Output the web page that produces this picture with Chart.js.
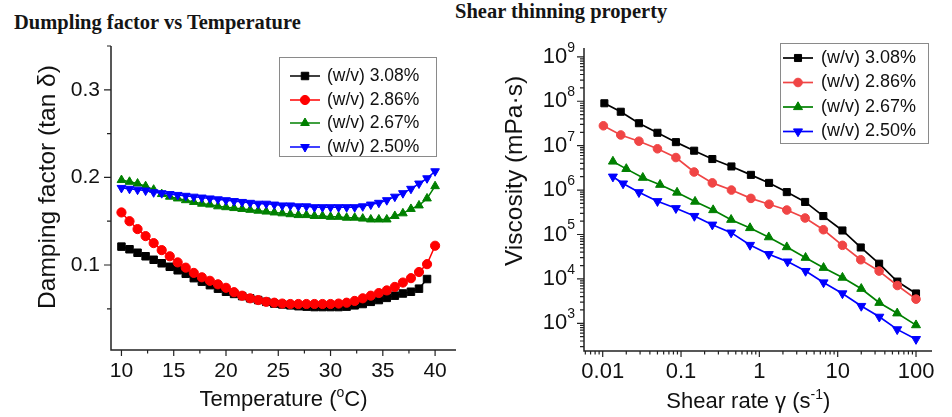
<!DOCTYPE html>
<html>
<head>
<meta charset="utf-8">
<script src="https://cdn.jsdelivr.net/npm/chart.js@4.4.1/dist/chart.umd.min.js"></script>
<style>
body { margin:0; background:#fff; width:952px; height:417px; position:relative; overflow:hidden; }
.ttl { position:absolute; font-family:"Liberation Serif", serif; font-weight:bold; font-size:20.5px; line-height:20.5px; white-space:nowrap; color:#151515; }
#left_chart { position:absolute; left:0; top:0; }
#right_chart { position:absolute; left:476px; top:0; }
</style>
</head>
<body>
<div class="ttl" style="left:14px; top:12px;">Dumpling factor vs Temperature</div>
<div class="ttl" style="left:455px; top:1px;">Shear thinning property</div>
<canvas id="left_chart" width="476" height="417"></canvas>
<canvas id="right_chart" width="476" height="417"></canvas>
<script>
// 系列名
const series_labels = ["(w/v) 3.08%", "(w/v) 2.86%", "(w/v) 2.67%", "(w/v) 2.50%"];

// 左: 温度 (°C)
const temperature = [10.00, 10.77, 11.54, 12.31, 13.08, 13.85, 14.62, 15.38, 16.15, 16.92,
                     17.69, 18.46, 19.23, 20.00, 20.77, 21.54, 22.31, 23.08, 23.85, 24.62,
                     25.38, 26.15, 26.92, 27.69, 28.46, 29.23, 30.00, 30.77, 31.54, 32.31,
                     33.08, 33.85, 34.62, 35.38, 36.15, 36.92, 37.69, 38.46, 39.23, 40.00];

// 左: tan δ
const damp_308 = [0.121, 0.118, 0.114, 0.110, 0.106, 0.102, 0.098, 0.094, 0.090, 0.085,
                  0.081, 0.077, 0.073, 0.0695, 0.067, 0.0645, 0.062, 0.060, 0.058, 0.056,
                  0.055, 0.054, 0.053, 0.0525, 0.052, 0.052, 0.052, 0.052, 0.0525, 0.054,
                  0.0555, 0.058, 0.060, 0.0625, 0.065, 0.0675, 0.0695, 0.073, 0.084];
const damp_286 = [0.160, 0.150, 0.141, 0.133, 0.125, 0.117, 0.110, 0.103, 0.097, 0.091,
                  0.086, 0.082, 0.078, 0.074, 0.069, 0.065, 0.062, 0.060, 0.058, 0.057,
                  0.056, 0.0555, 0.0555, 0.0555, 0.0555, 0.0555, 0.0555, 0.056, 0.057, 0.059,
                  0.062, 0.065, 0.068, 0.071, 0.075, 0.080, 0.085, 0.092, 0.101, 0.122];
const damp_267 = [0.197, 0.195, 0.193, 0.190, 0.186, 0.181, 0.178, 0.176, 0.174, 0.172,
                  0.170, 0.169, 0.167, 0.166, 0.165, 0.164, 0.163, 0.162, 0.161, 0.160,
                  0.159, 0.158, 0.157, 0.157, 0.156, 0.156, 0.155, 0.155, 0.154, 0.154,
                  0.153, 0.152, 0.152, 0.152, 0.156, 0.159, 0.164, 0.168, 0.176, 0.190];
const damp_250 = [0.188, 0.187, 0.186, 0.185, 0.183, 0.182, 0.181, 0.180, 0.179, 0.178,
                  0.177, 0.176, 0.175, 0.174, 0.173, 0.172, 0.171, 0.170, 0.170, 0.169,
                  0.168, 0.168, 0.167, 0.167, 0.166, 0.166, 0.166, 0.166, 0.166, 0.166,
                  0.167, 0.169, 0.171, 0.174, 0.178, 0.182, 0.187, 0.193, 0.199, 0.207];

// 右: せん断速度 (1/s)
const shear_308 = [0.0105, 0.017, 0.029, 0.050, 0.086, 0.147, 0.251, 0.44, 0.78, 1.33, 2.24, 3.84, 6.56, 11.5, 19.7, 33.8, 57.8, 100];
const shear_286 = [0.0102, 0.017, 0.029, 0.050, 0.086, 0.147, 0.251, 0.44, 0.78, 1.33, 2.24, 3.84, 6.56, 11.5, 19.7, 33.8, 57.8, 100];
const shear_267 = [0.0135, 0.020, 0.0325, 0.054, 0.089, 0.151, 0.257, 0.436, 0.76, 1.32, 2.24, 3.89, 6.6, 11.5, 20.0, 34.0, 57.5, 100];
const shear_250 = [0.0135, 0.0182, 0.029, 0.050, 0.086, 0.148, 0.251, 0.436, 0.76, 1.32, 2.29, 3.89, 6.6, 11.5, 20.0, 34.0, 57.5, 100];

// 右: 粘度 (mPa·s)
const visc_308 = [9.0e7, 5.8e7, 3.2e7, 1.95e7, 1.2e7, 7.7e6, 5.0e6, 3.4e6, 2.2e6, 1.45e6, 9.0e5, 5.4e5, 2.6e5, 1.23e5, 5.1e4, 2.2e4, 8.7e3, 4.7e3];
const visc_286 = [2.8e7, 1.74e7, 1.26e7, 8.5e6, 5.4e6, 2.55e6, 1.45e6, 1.0e6, 6.5e5, 4.8e5, 3.55e5, 2.35e5, 1.28e5, 5.7e4, 2.7e4, 1.5e4, 7.1e3, 3.5e3];
const visc_267 = [4.4e6, 3.0e6, 1.9e6, 1.32e6, 8.8e5, 5.5e5, 3.55e5, 2.15e5, 1.4e5, 8.7e4, 5.2e4, 3.0e4, 1.78e4, 1.07e4, 6.0e3, 2.9e3, 1.68e3, 9.1e2];
const visc_250 = [2.0e6, 1.4e6, 8.9e5, 5.6e5, 3.9e5, 2.6e5, 1.66e5, 1.1e5, 5.8e4, 3.6e4, 2.45e4, 1.5e4, 8.3e3, 4.7e3, 2.45e3, 1.4e3, 7.3e2, 4.4e2];

// 目盛り
const temp_ticks  = [10, 15, 20, 25, 30, 35, 40];
const temp_minor  = [12.5, 17.5, 22.5, 27.5, 32.5, 37.5];
const damp_ticks  = [0.1, 0.2, 0.3];
const damp_minor  = [0.05, 0.15, 0.25, 0.35];
const shear_ticks = [0.01, 0.1, 1, 10, 100];
const shear_tick_labels = ["0.01", "0.1", "1", "10", "100"];
const visc_exps   = [3, 4, 5, 6, 7, 8, 9];

const FONT = '"Liberation Sans", Arial, sans-serif';


function to_points(xs, ys){
    return ys.map((v, i) => ({x: xs[i], y: v}));
}

// 上付き文字を含むテキスト: parts = [[text, size, dy], ...]
function draw_rich(ctx, parts, x, y, align, rot){
    ctx.save();
    ctx.translate(x, y);
    if (rot) ctx.rotate(rot);
    ctx.textBaseline = "middle";
    ctx.textAlign = "left";
    let widths = [];
    let total = 0;
    for (let p of parts){
        ctx.font = p[1] + "px " + FONT;
        let w = ctx.measureText(p[0]).width;
        widths.push(w);
        total += w;
    }
    let cx = (align == "center") ? -total / 2 : (align == "right" ? -total : 0);
    parts.forEach((p, i) => {
        ctx.font = p[1] + "px " + FONT;
        ctx.fillStyle = "#111";
        ctx.fillText(p[0], cx, p[2] || 0);
        cx += widths[i];
    });
    ctx.restore();
}

// 軸線と目盛り(外向き)
function make_axes(spec){
    return {
        id: "hand_axes",
        beforeDatasetsDraw(chart){
            const ctx = chart.ctx;
            const a   = chart.chartArea;
            const xs  = chart.scales.x;
            const ys  = chart.scales.y;
            ctx.save();
            ctx.strokeStyle = "#222";
            ctx.lineWidth = 1.5;
            ctx.beginPath();
            ctx.moveTo(a.left, a.top);
            ctx.lineTo(a.left, a.bottom);
            ctx.lineTo(a.right, a.bottom);
            ctx.stroke();

            ctx.lineWidth = 1.2;
            ctx.beginPath();
            for (let v of spec.x_major){
                let px = xs.getPixelForValue(v);
                ctx.moveTo(px, a.bottom); ctx.lineTo(px, a.bottom + 6);
            }
            for (let v of spec.x_minor){
                let px = xs.getPixelForValue(v);
                ctx.moveTo(px, a.bottom); ctx.lineTo(px, a.bottom + 3.5);
            }
            for (let v of spec.y_major){
                let py = ys.getPixelForValue(v);
                ctx.moveTo(a.left, py); ctx.lineTo(a.left - 7, py);
            }
            for (let v of spec.y_minor){
                let py = ys.getPixelForValue(v);
                ctx.moveTo(a.left, py); ctx.lineTo(a.left - 4, py);
            }
            ctx.stroke();
            ctx.restore();
            spec.labels(chart, ctx);
        }
    };
}

// 枠付きの凡例
function make_legend(L){
    return {
        id: "box_legend",
        afterDatasetsDraw(chart){
            const ctx = chart.ctx;
            ctx.save();
            ctx.fillStyle = "#fff";
            ctx.fillRect(L.x, L.y, L.w, L.h);
            ctx.strokeStyle = "#8a8a8a";
            ctx.lineWidth = 1;
            ctx.strokeRect(L.x + 0.5, L.y + 0.5, L.w, L.h);
            chart.data.datasets.forEach((ds, i) => {
                let y = L.rows[i];
                ctx.strokeStyle = ds.borderColor;
                ctx.lineWidth = ds.borderWidth;
                ctx.beginPath();
                ctx.moveTo(L.x0, y);
                ctx.lineTo(L.x1, y);
                ctx.stroke();
                ctx.fillStyle = ds.pointBackgroundColor;
                ctx.strokeStyle = ds.pointBorderColor;
                ctx.lineWidth = 1;
                Chart.helpers.drawPoint(ctx, {
                    pointStyle: ds.pointStyle,
                    rotation: ds.pointRotation || 0,
                    radius: ds.pointRadius,
                    borderWidth: 1
                }, (L.x0 + L.x1) / 2, y);
                ctx.fillStyle = "#111";
                ctx.font = L.font + "px " + FONT;
                ctx.textBaseline = "middle";
                ctx.textAlign = "left";
                ctx.fillText(ds.label, L.tx, y);
            });
            ctx.restore();
        }
    };
}

function make_dataset(label, points, color, style, rot, radius, lw, order){
    return {
        label: label,
        data: points,
        showLine: true,
        borderColor: color,
        borderWidth: lw,
        backgroundColor: color,
        pointBackgroundColor: color,
        pointBorderColor: color,
        pointBorderWidth: 1,
        pointStyle: style,
        pointRotation: rot,
        pointRadius: radius,
        pointHoverRadius: radius,
        tension: 0,
        order: order
    };
}


window.addEventListener("load", function (){
    draw_damping_chart();
    draw_viscosity_chart();
});


function draw_damping_chart(){
    const ctx = document.getElementById("left_chart").getContext("2d");
    new Chart(ctx, {
        type: "scatter",
        data: {
            datasets: [
                make_dataset(series_labels[0], to_points(temperature, damp_308), "#000000", "rect", 0, 5.3, 1.5, 3),
                make_dataset(series_labels[1], to_points(temperature, damp_286), "#ff0000", "circle", 0, 4.6, 1.5, 2),
                make_dataset(series_labels[2], to_points(temperature, damp_267), "#008000", "triangle", 0, 5.0, 1.5, 1),
                make_dataset(series_labels[3], to_points(temperature, damp_250), "#0000ff", "triangle", 180, 5.0, 1.5, 0)
            ]
        },
        options: {
            responsive: false,
            animation: false,
            events: [],
            layout: { padding: { left: 111, right: 20, top: 46, bottom: 67 } },
            scales: {
                x: { type: "linear", min: 9, max: 42, display: false },
                y: { type: "linear", min: 0.003, max: 0.35, display: false }
            },
            plugins: { legend: { display: false }, tooltip: { enabled: false } }
        },
        plugins: [
            make_axes({
                x_major: temp_ticks, x_minor: temp_minor,
                y_major: damp_ticks, y_minor: damp_minor,
                labels: function(chart, ctx){
                    const a = chart.chartArea;
                    for (let v of damp_ticks){
                        draw_rich(ctx, [[v.toFixed(1), 21]], a.left - 11, chart.scales.y.getPixelForValue(v), "right");
                    }
                    for (let v of temp_ticks){
                        draw_rich(ctx, [[String(v), 21]], chart.scales.x.getPixelForValue(v), 371, "center");
                    }
                    draw_rich(ctx, [["Temperature (", 22], ["o", 14, -7], ["C)", 22]], 283.5, 400, "center");
                    draw_rich(ctx, [["Damping factor (tan \u03b4)", 24.5]], 48, 187, "center", -Math.PI / 2);
                }
            }),
            make_legend({ x: 279, y: 57, w: 157, h: 99, rows: [76, 100, 123, 147], x0: 290, x1: 320, tx: 327, font: 17.5 })
        ]
    });
}


function draw_viscosity_chart(){
    const ctx = document.getElementById("right_chart").getContext("2d");

    // 対数目盛りの補助目盛り (2〜9)
    let x_minor = [];
    let y_minor = [];
    for (let n = -3; n <= 2; n++){
        for (let k = 2; k < 10; k++){
            let v = k * Math.pow(10, n);
            if (v > 0.00577 && v < 160) x_minor.push(v);
        }
    }
    for (let n = 2; n <= 9; n++){
        for (let k = 2; k < 10; k++){
            let v = k * Math.pow(10, n);
            if (v > 238 && v < 1.58e9) y_minor.push(v);
        }
    }

    new Chart(ctx, {
        type: "scatter",
        data: {
            datasets: [
                make_dataset(series_labels[0], to_points(shear_308, visc_308), "#000000", "rect", 0, 5.0, 1.7, 3),
                make_dataset(series_labels[1], to_points(shear_286, visc_286), "#f04545", "circle", 0, 4.3, 1.7, 2),
                make_dataset(series_labels[2], to_points(shear_267, visc_267), "#008000", "triangle", 0, 5.2, 1.7, 1),
                make_dataset(series_labels[3], to_points(shear_250, visc_250), "#0000ff", "triangle", 180, 5.2, 1.7, 0)
            ]
        },
        options: {
            responsive: false,
            animation: false,
            events: [],
            layout: { padding: { left: 108, right: 20, top: 48, bottom: 66 } },
            scales: {
                x: { type: "logarithmic", min: 0.00577, max: 160, display: false },
                y: { type: "logarithmic", min: 238, max: 1.58e9, display: false }
            },
            plugins: { legend: { display: false }, tooltip: { enabled: false } }
        },
        plugins: [
            make_axes({
                x_major: shear_ticks, x_minor: x_minor,
                y_major: visc_exps.map(e => Math.pow(10, e)), y_minor: y_minor,
                labels: function(chart, ctx){
                    for (let e of visc_exps){
                        draw_rich(ctx, [["10", 22], [String(e), 14, -9]], 99, chart.scales.y.getPixelForValue(Math.pow(10, e)), "right");
                    }
                    shear_ticks.forEach((v, i) => {
                        draw_rich(ctx, [[shear_tick_labels[i], 22]], chart.scales.x.getPixelForValue(v), 371.5, "center");
                    });
                    draw_rich(ctx, [["Shear rate \u03b3 (s", 22], ["-1", 14, -7], [")", 22]], 272.3, 402, "center");
                    draw_rich(ctx, [["Viscosity (mPa\u00b7s)", 24.5]], 39, 171, "center", -Math.PI / 2);
                }
            }),
            make_legend({ x: 304, y: 43, w: 148, h: 100, rows: [58, 82.5, 107, 131.5], x0: 307, x1: 337, tx: 345, font: 18 })
        ]
    });
}
</script>
</body>
</html>
